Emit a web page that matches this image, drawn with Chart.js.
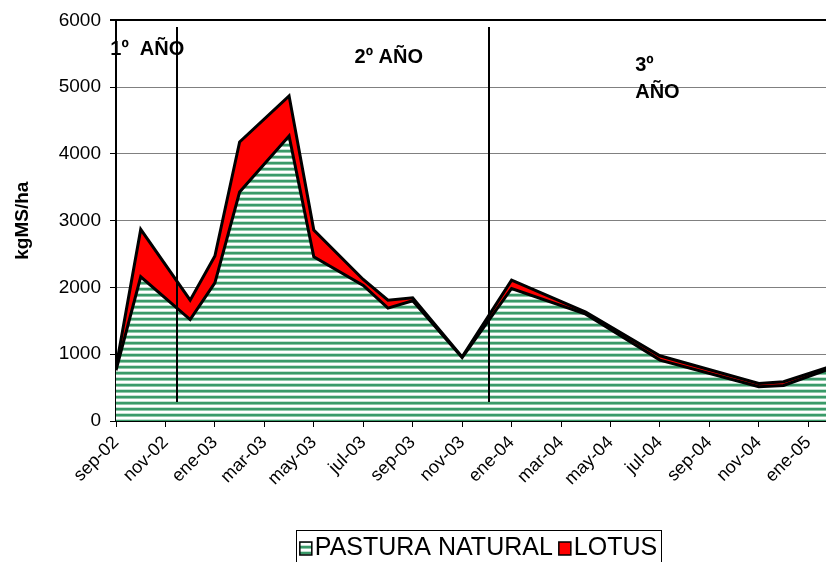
<!DOCTYPE html>
<html>
<head>
<meta charset="utf-8">
<title>Producción de forraje</title>
<script src="https://cdn.jsdelivr.net/npm/chart.js@4.4.1/dist/chart.umd.min.js"></script>
<style>
    html, body { margin: 0; padding: 0; background: #fff; overflow: hidden; }
    #contenedor { width: 840px; height: 562px; }
</style>
</head>
<body>
<div id="contenedor"><canvas id="grafico" width="840" height="562"></canvas></div>
<script>
// =====================================================
// DATOS
// =====================================================
const meses = ['sep-02', 'oct-02', 'nov-02', 'dic-02', 'ene-03', 'feb-03', 'mar-03', 'abr-03',
    'may-03', 'jun-03', 'jul-03', 'ago-03', 'sep-03', 'oct-03', 'nov-03', 'dic-03', 'ene-04',
    'feb-04', 'mar-04', 'abr-04', 'may-04', 'jun-04', 'jul-04', 'ago-04', 'sep-04', 'oct-04',
    'nov-04', 'dic-04', 'ene-05', 'feb-05'];
const fechasMuestreo = ['sep-02', 'oct-02', 'dic-02', 'ene-03', 'feb-03', 'abr-03', 'may-03',
    'jul-03', 'ago-03', 'sep-03', 'nov-03', 'ene-04', 'abr-04', 'jul-04', 'nov-04', 'dic-04', 'feb-05'];
const pasturaNatural = [760, 2160, 1520, 2070, 3430, 4270, 2460, 2030, 1690, 1800, 950, 1985, 1600, 912, 513, 533, 800];
const lotus = [40, 710, 290, 400, 750, 600, 400, 90, 120, 45, 10, 125, 30, 65, 50, 55, 30];
const marcasEje = ['sep-02', 'nov-02', 'ene-03', 'mar-03', 'may-03', 'jul-03', 'sep-03', 'nov-03',
    'ene-04', 'mar-04', 'may-04', 'jul-04', 'sep-04', 'nov-04', 'ene-05'];

// separaciones entre años (en meses desde sep-02) y rótulos
const divisiones = [2.45, 15.07];
const rotulosAno = [
    { lineas: ['1º  AÑO'], mes: -0.23, valor: 5480 },
    { lineas: ['2º AÑO'], mes: 9.65, valor: 5360 },
    { lineas: ['3º', 'AÑO'], mes: 21.0, valor: 5240 }
];

const FUENTE = '"Liberation Sans", Arial, Helvetica, sans-serif';

// =====================================================
// TRAMA RAYADA VERDE
// =====================================================
function crearTrama() {
    const c = document.createElement('canvas');
    c.width = 8;
    c.height = 6;
    const g = c.getContext('2d');
    const filas = ['#3a9a69', '#3a9a69', '#8ec8a8', '#ffffff', '#ffffff', '#c4e2d1'];
    filas.forEach((col, i) => {
        g.fillStyle = col;
        g.fillRect(0, i, 8, 1);
    });
    return g.createPattern(c, 'repeat');
}

const ctx = document.getElementById('grafico').getContext('2d');
const trama = crearTrama();

function serie(valores) {
    return fechasMuestreo.map((f, i) => ({ x: meses.indexOf(f), y: valores[i] }));
}

// =====================================================
// PLUGINS: líneas de año y leyenda
// =====================================================
const anosPlugin = {
    id: 'anos',
    afterDatasetsDraw(chart) {
        const { ctx, scales: { x, y } } = chart;
        ctx.save();
        ctx.strokeStyle = '#000';
        ctx.lineWidth = 2;
        divisiones.forEach(m => {
            const px = Math.round(x.getPixelForValue(m));
            ctx.beginPath();
            ctx.moveTo(px, y.getPixelForValue(5900));
            ctx.lineTo(px, y.getPixelForValue(285));
            ctx.stroke();
        });
        ctx.fillStyle = '#000';
        ctx.font = 'bold 20px ' + FUENTE;
        ctx.textBaseline = 'alphabetic';
        rotulosAno.forEach(r => {
            const px = x.getPixelForValue(r.mes);
            const py = y.getPixelForValue(r.valor);
            r.lineas.forEach((t, i) => ctx.fillText(t, px, py + i * 27));
        });
        ctx.restore();
    }
};

const leyendaPlugin = {
    id: 'leyendaCaja',
    afterDraw(chart) {
        const { ctx, chartArea } = chart;
        ctx.save();
        ctx.font = '25px ' + FUENTE;
        const items = chart.data.datasets.map(ds => ({
            texto: ds.label,
            color: ds.backgroundColor,
            ancho: ctx.measureText(ds.label).width
        }));
        const cuadro = 12, sep = 3, entre = 6;
        const total = items.reduce((s, it) => s + cuadro + sep + it.ancho, 0) + entre * (items.length - 1);
        let x = (chartArea.left + chartArea.right) / 2 + 4 - total / 2;
        const top = 530;
        ctx.strokeStyle = '#000';
        ctx.lineWidth = 1;
        ctx.strokeRect(Math.round(x - 4) + 0.5, top + 0.5, Math.round(total + 8), 45);
        items.forEach(it => {
            ctx.fillStyle = it.color;
            ctx.fillRect(x, 542, cuadro, 13);
            ctx.lineWidth = 1.5;
            ctx.strokeRect(x, 542, cuadro, 13);
            ctx.fillStyle = '#000';
            ctx.fillText(it.texto, x + cuadro + sep, 555);
            x += cuadro + sep + it.ancho + entre;
        });
        ctx.restore();
    }
};

// =====================================================
// GRÁFICO
// =====================================================
new Chart(ctx, {
    type: 'line',
    data: {
        datasets: [
            {
                label: 'PASTURA NATURAL',
                data: serie(pasturaNatural),
                backgroundColor: trama,
                borderColor: '#000',
                borderWidth: 3,
                fill: 'origin',
                pointRadius: 0,
                tension: 0
            },
            {
                label: 'LOTUS',
                data: serie(lotus),
                backgroundColor: '#ff0000',
                borderColor: '#000',
                borderWidth: 3,
                fill: '-1',
                pointRadius: 0,
                tension: 0
            }
        ]
    },
    options: {
        responsive: false,
        animation: false,
        devicePixelRatio: 1,
        layout: { padding: { top: 20, right: 7, bottom: 0, left: 0 } },
        plugins: {
            legend: { display: false },
            tooltip: { enabled: false }
        },
        scales: {
            x: {
                type: 'linear',
                min: 0,
                max: 29,
                afterBuildTicks: axis => {
                    axis.ticks = marcasEje.map(m => ({ value: meses.indexOf(m) }));
                },
                afterFit: axis => { axis.height = 141; },
                grid: { drawOnChartArea: false, drawTicks: true, tickLength: 6, tickColor: '#000' },
                border: { display: true, color: '#000', width: 2 },
                ticks: {
                    autoSkip: false,
                    minRotation: 45,
                    maxRotation: 45,
                    padding: 5,
                    color: '#000',
                    font: { family: FUENTE, size: 18 },
                    callback: v => meses[v]
                }
            },
            y: {
                stacked: true,
                min: 0,
                max: 6000,
                afterFit: axis => { axis.width = 116; },
                grid: {
                    color: c => c.tick && c.tick.value === 6000 ? '#000' : '#808080',
                    lineWidth: c => c.tick && c.tick.value === 6000 ? 2 : 1,
                    tickLength: 6,
                    tickColor: '#000'
                },
                border: { display: true, color: '#000', width: 2 },
                ticks: {
                    stepSize: 1000,
                    padding: 9,
                    color: '#000',
                    font: { family: FUENTE, size: 19 },
                    callback: v => String(v)
                },
                title: {
                    display: true,
                    text: 'kgMS/ha',
                    color: '#000',
                    font: { family: FUENTE, size: 19, weight: 'bold' },
                    padding: { top: 11, bottom: 4 }
                }
            }
        }
    },
    plugins: [anosPlugin, leyendaPlugin]
});
</script>
</body>
</html>
